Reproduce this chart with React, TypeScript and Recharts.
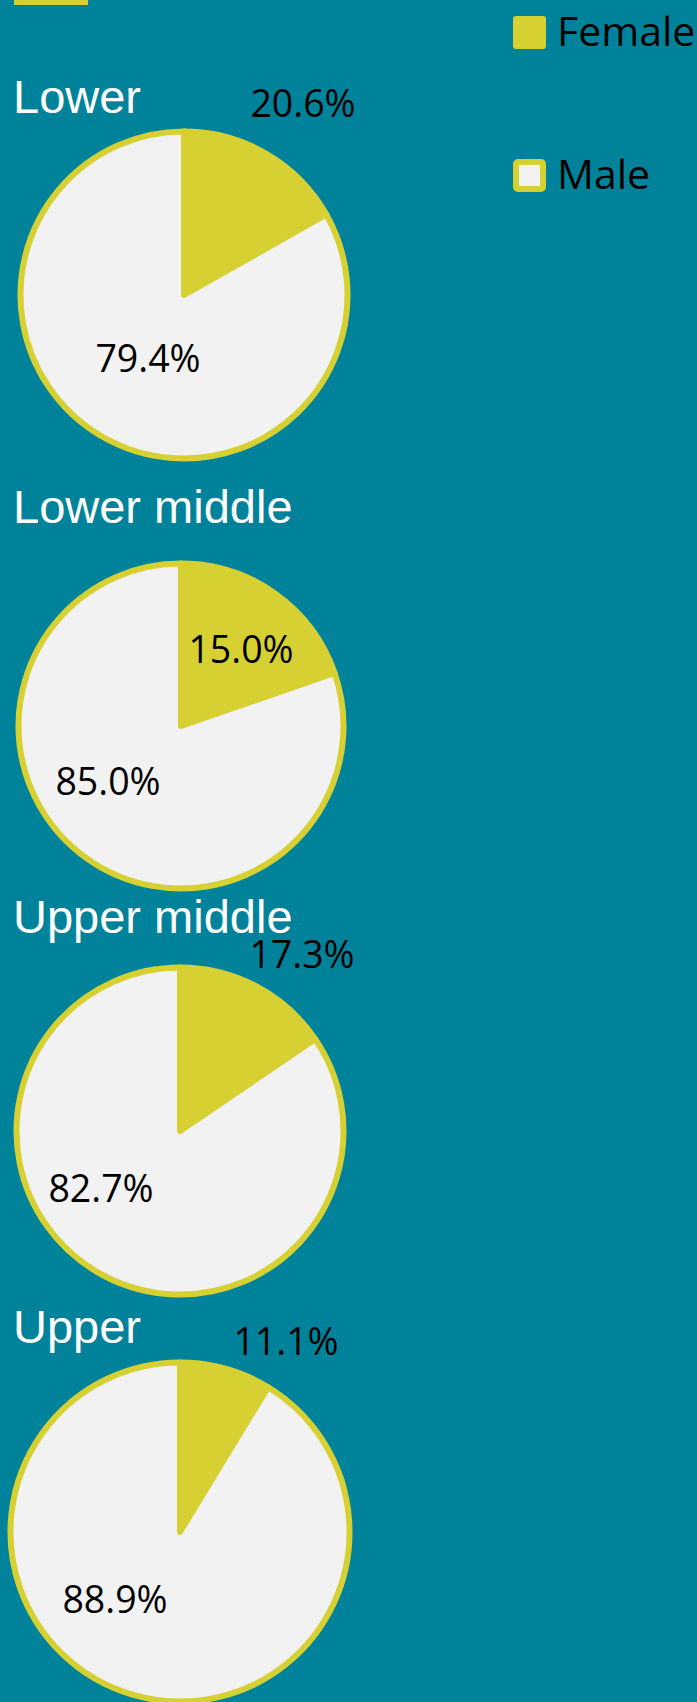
import { PieChart, Pie, Cell } from 'recharts';

const BANDS = ['Lower', 'Lower middle', 'Upper middle', 'Upper'];
const SERIES = ['Female', 'Male'];
// slice sizes as drawn in the source picture (its sectors do not follow the printed labels)
const FEMALE = [16.8, 19.7, 15.5, 8.7];
const MALE = [83.2, 80.3, 84.5, 91.3];
// data labels as printed
const FEMALE_LABELS = ['20.6%', '15.0%', '17.3%', '11.1%'];
const MALE_LABELS = ['79.4%', '85.0%', '82.7%', '88.9%'];

const BG = '#00839A';
const YELLOW = '#D7D033';
const COLORS = [YELLOW, '#F2F2F2'];
const LABEL_FONT = '"Open Sans", sans-serif';

// where each pie sits, and the hand-placed data labels (offset from the centre)
const LAYOUT = [
  { cx: 184, cy: 295, r: 163.5, titleY: 113, labels: [[119, -178], [-36, 77]] },
  { cx: 181, cy: 726, r: 162.5, titleY: 523, labels: [[60, -63], [-73, 69]] },
  { cx: 180, cy: 1131, r: 163.5, titleY: 933, labels: [[122, -163], [-79, 71]] },
  { cx: 180, cy: 1532, r: 169.5, titleY: 1343, labels: [[106, -177], [-65, 81]] },
];

export default function App() {
  const W = 697;
  const H = 1702;

  return (
    <div style={{ position: 'absolute', left: 0, top: 0, width: W, height: H, background: BG, overflow: 'hidden' }}>
      <PieChart width={W} height={H} margin={{ top: 0, right: 0, bottom: 0, left: 0 }}>
        {BANDS.map((band, i) => {
          const lay = LAYOUT[i];
          const data = SERIES.map((name, j) => ({
            name,
            value: j === 0 ? FEMALE[i] : MALE[i],
            text: j === 0 ? FEMALE_LABELS[i] : MALE_LABELS[i],
          }));
          return (
            <Pie
              key={band}
              data={data}
              dataKey="value"
              nameKey="name"
              cx={lay.cx}
              cy={lay.cy}
              outerRadius={lay.r}
              startAngle={90}
              endAngle={-270}
              stroke={YELLOW}
              strokeWidth={6}
              strokeLinejoin="round"
              labelLine={false}
              isAnimationActive={false}
              label={({ index }: { index: number }) => (
                <text
                  x={lay.cx + lay.labels[index][0]}
                  y={lay.cy + lay.labels[index][1]}
                  textAnchor="middle"
                  fill="#000"
                  fontFamily={LABEL_FONT}
                  fontSize={37.5}
                >
                  {data[index].text}
                </text>
              )}
            >
              {data.map((d, j) => (
                <Cell key={d.name} fill={COLORS[j]} />
              ))}
            </Pie>
          );
        })}
      </PieChart>

      <svg width={W} height={H} style={{ position: 'absolute', left: 0, top: 0, pointerEvents: 'none' }}>
        <rect x={14} y={0} width={74} height={5} fill={YELLOW} />
        {BANDS.map((band, i) => (
          <text key={band} x={13} y={LAYOUT[i].titleY} fill="#fff" fontFamily='"Liberation Sans", Arial, sans-serif' fontSize={47}>
            {band}
          </text>
        ))}
        {SERIES.map((name, j) => {
          const y = j === 0 ? 16 : 159;
          return (
            <g key={name}>
              {j === 0 ? (
                <rect x={513} y={y} width={33} height={33} rx={3} fill={YELLOW} />
              ) : (
                <rect x={516} y={y + 3} width={27} height={27} rx={2} fill={COLORS[1]} stroke={YELLOW} strokeWidth={6} />
              )}
              <text x={557} y={y + 30} fill="#000" fontFamily={LABEL_FONT} fontSize={41}>
                {name}
              </text>
            </g>
          );
        })}
      </svg>
    </div>
  );
}
